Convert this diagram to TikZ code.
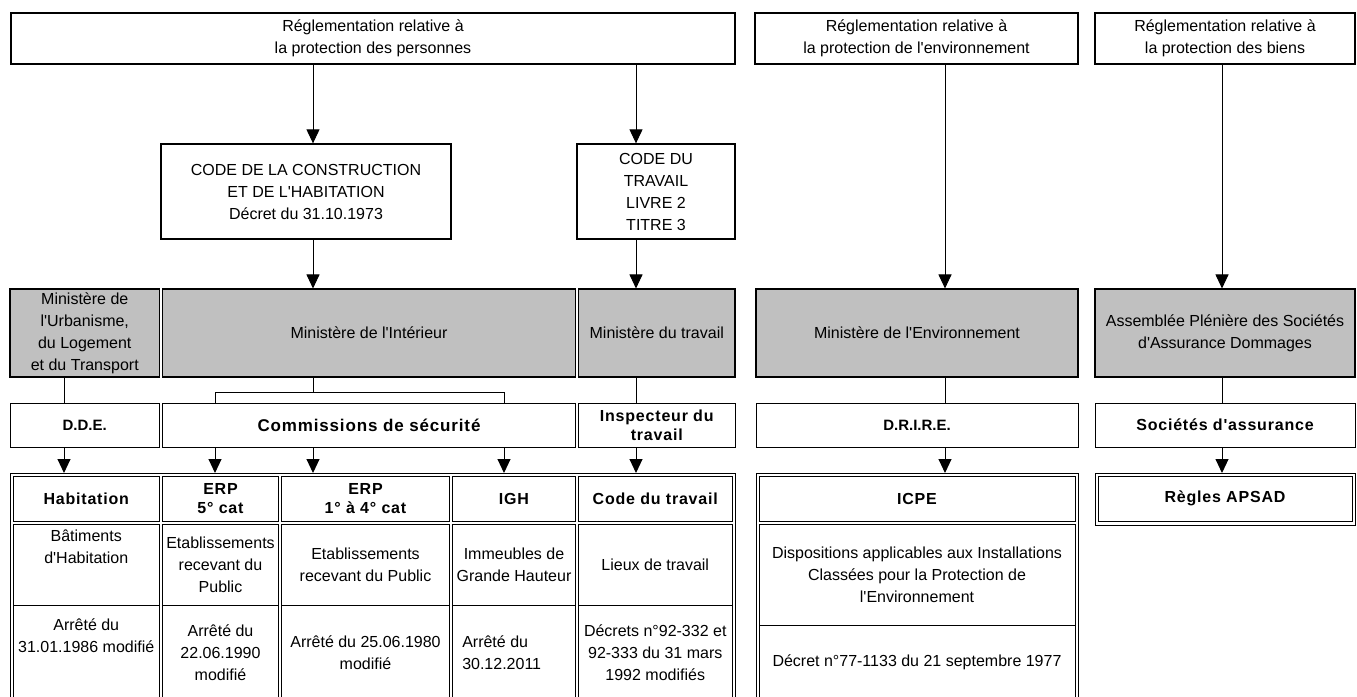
\documentclass[tikz,border=0pt]{standalone}
\usepackage{fontspec}
\setmainfont{Liberation Sans}
\newfontfamily\plainfont{Liberation Sans}
\newfontfamily\hdfont{Liberation Sans}[LetterSpace=5]
\usetikzlibrary{arrows.meta}
\definecolor{minigrey}{RGB}{192,192,192}

\begin{document}
\begin{tikzpicture}[x=1pt,y=-1pt,
    txt/.style={font=\plainfont\fontsize{16}{22}\selectfont, align=center, inner sep=0pt},
    hd/.style={font=\hdfont\bfseries\fontsize{16}{19}\selectfont, align=center, inner sep=0pt},
    abbr/.style={font=\plainfont\bfseries\fontsize{15}{19}\selectfont},
    topbox/.style={txt, draw, line width=1.8pt, minimum height=51pt},
    codebox/.style={txt, draw, line width=1.3pt, minimum height=95pt},
    minis/.style={txt, draw, line width=1.1pt, fill=minigrey, minimum height=88pt},
    serv/.style={hd, draw, line width=1pt, minimum height=44pt},
    tabframe/.style={draw, line width=0.9pt, inner sep=0pt, anchor=north west},
    tcell/.style={draw, line width=0.9pt},
    arr/.style={line width=1pt, -{Triangle[width=13pt,length=14pt]}},
    link/.style={line width=1pt}]
  \clip (0,0) rectangle (1357,696);
  \fill[white] (0,0) rectangle (1357,696);

  % reglementations
  \node[topbox, minimum width=724pt] (pers) at (373,38.5) {Réglementation relative à\\la protection des personnes};
  \node[topbox, minimum width=323pt] (envi) at (916.5,38.5) {Réglementation relative à\\la protection de l'environnement};
  \node[topbox, minimum width=260pt] (bien) at (1225,38.5) {Réglementation relative à\\la protection des biens};

  % codes
  \node[codebox, minimum width=290pt] (cch) at (306,191.5) {CODE DE LA CONSTRUCTION\\ET DE L'HABITATION\\Décret du 31.10.1973};
  \node[codebox, minimum width=158pt] (ctrav) at (656,191.5) {CODE DU\\TRAVAIL\\LIVRE 2\\TITRE 3};

  % ministeres
  \node[minis, minimum width=149.5pt] (murb) at (84.75,333) {Ministère de\\l'Urbanisme,\\du Logement\\et du Transport};
  \node[minis, minimum width=413pt] (mint) at (369,333) {Ministère de l'Intérieur};
  \node[minis, minimum width=156.5pt] (mtrav) at (656.75,333) {Ministère du travail};
  \node[minis, minimum width=322pt] (menv) at (917,333) {Ministère de l'Environnement};
  \node[minis, minimum width=260pt] (mass) at (1225,333) {Assemblée Plénière des Sociétés\\d'Assurance Dommages};

  % services
  \node[serv, abbr, minimum width=149.5pt] (dde) at (84.75,425) {D.D.E.};
  \node[serv, minimum width=413pt, font=\hdfont\bfseries\fontsize{17}{19}\selectfont] (csec) at (369,425) {Commissions de sécurité};
  \node[serv, minimum width=156.5pt] (insp) at (656.75,425) {Inspecteur du\\travail};
  \node[serv, abbr, minimum width=322pt] (drire) at (917,425) {D.R.I.R.E.};
  \node[serv, minimum width=260pt] (socas) at (1225,425) {Sociétés d'assurance};

  % tableaux
  \node[tabframe, minimum width=725pt, minimum height=227pt] (tabl) at (10,473) {};
  \node[tabframe, minimum width=322pt, minimum height=227pt] (tabicpe) at (756,473) {};
  \node[tabframe, minimum width=260pt, minimum height=51.5pt] (tabaps) at (1095,473) {};

  \node[tcell, hd, minimum width=146.5pt, minimum height=45.5pt] (hhab) at (86.25,498.75) {Habitation};
  \node[tcell, hd, minimum width=116pt, minimum height=45.5pt] (herp5) at (220.5,498.75) {ERP\\5° cat};
  \node[tcell, hd, minimum width=168pt, minimum height=45.5pt] (herp14) at (365.5,498.75) {ERP\\1° à 4° cat};
  \node[tcell, hd, minimum width=123pt, minimum height=45.5pt] (high) at (514,498.75) {IGH};
  \node[tcell, hd, minimum width=153.5pt, minimum height=45.5pt] (hcdt) at (655.25,498.75) {Code du travail};
  \node[tcell, hd, minimum width=316pt, minimum height=45.5pt] (hicpe) at (917,498.75) {ICPE};
  \node[tcell, hd, minimum width=254pt, minimum height=45.5pt] (haps) at (1225,498.75) {Règles APSAD};

  \node[tcell, minimum width=146.5pt, minimum height=80.5pt] (dhab) at (86.25,564.75) {};
  \node[txt, anchor=north] (dhabt) at ([yshift=-6pt]dhab.north) {Bâtiments\\d'Habitation};
  \node[tcell, txt, minimum width=116pt, minimum height=80.5pt] (derp5) at (220.5,564.75) {Etablissements\\recevant du\\Public};
  \node[tcell, txt, minimum width=168pt, minimum height=80.5pt] (derp14) at (365.5,564.75) {Etablissements\\recevant du Public};
  \node[tcell, txt, minimum width=123pt, minimum height=80.5pt] (digh) at (514,564.75) {Immeubles de\\Grande Hauteur};
  \node[tcell, txt, minimum width=153.5pt, minimum height=80.5pt] (dcdt) at (655.25,564.75) {Lieux de travail};
  \node[tcell, txt, minimum width=316pt, minimum height=100.5pt] (dicpe) at (917,574.75) {Dispositions applicables aux Installations\\Classées pour la Protection de\\l'Environnement};

  \node[tcell, minimum width=146.5pt, minimum height=95pt] (rhab) at (86.25,652.5) {};
  \node[txt, anchor=north] (rhabt) at ([yshift=-14pt]rhab.north) {Arrêté du\\31.01.1986 modifié};
  \node[tcell, txt, minimum width=116pt, minimum height=95pt] (rerp5) at (220.5,652.5) {Arrêté du\\22.06.1990\\modifié};
  \node[tcell, txt, minimum width=168pt, minimum height=95pt] (rerp14) at (365.5,652.5) {Arrêté du 25.06.1980\\modifié};
  \node[tcell, minimum width=123pt, minimum height=95pt] (righ) at (514,652.5) {};
  \node[txt, align=left, anchor=west] (right) at ([xshift=10pt]righ.west) {Arrêté du\\30.12.2011};
  \node[tcell, txt, minimum width=153.5pt, minimum height=95pt] (rcdt) at (655.25,652.5) {Décrets n°92-332 et\\92-333 du 31 mars\\1992 modifiés};
  \node[tcell, txt, minimum width=316pt, minimum height=75pt] (ricpe) at (917,662.5) {Décret n°77-1133 du 21 septembre 1977};

  % liaisons
  \coordinate (xurb) at (64,0);
  \coordinate (xerp5) at (215,0);
  \coordinate (xint) at (313,0);
  \coordinate (xigh) at (504,0);
  \coordinate (xtrav) at (636,0);
  \coordinate (xenv) at (945,0);
  \coordinate (xbien) at (1222,0);
  \coordinate (jl) at (215,392);
  \coordinate (jm) at (313,392);
  \coordinate (jr) at (504,392);

  \draw[arr] (pers.south -| xint) -- (cch.north -| xint);
  \draw[arr] (pers.south -| xtrav) -- (ctrav.north -| xtrav);
  \draw[arr] (cch.south -| xint) -- (mint.north -| xint);
  \draw[arr] (ctrav.south -| xtrav) -- (mtrav.north -| xtrav);
  \draw[arr] (envi.south -| xenv) -- (menv.north -| xenv);
  \draw[arr] (bien.south -| xbien) -- (mass.north -| xbien);

  \draw[link] (murb.south -| xurb) -- (dde.north -| xurb);
  \draw[link] (mint.south -| jm) -- (jm);
  \draw[link] (jl |- csec.north) -- (jl) -- (jr) -- (jr |- csec.north);
  \draw[link] (mtrav.south -| xtrav) -- (insp.north -| xtrav);
  \draw[link] (menv.south -| xenv) -- (drire.north -| xenv);
  \draw[link] (mass.south -| xbien) -- (socas.north -| xbien);

  \draw[arr] (dde.south -| xurb) -- (tabl.north -| xurb);
  \draw[arr] (csec.south -| xerp5) -- (tabl.north -| xerp5);
  \draw[arr] (csec.south -| xint) -- (tabl.north -| xint);
  \draw[arr] (csec.south -| xigh) -- (tabl.north -| xigh);
  \draw[arr] (insp.south -| xtrav) -- (tabl.north -| xtrav);
  \draw[arr] (drire.south -| xenv) -- (tabicpe.north -| xenv);
  \draw[arr] (socas.south -| xbien) -- (tabaps.north -| xbien);
\end{tikzpicture}
\end{document}
